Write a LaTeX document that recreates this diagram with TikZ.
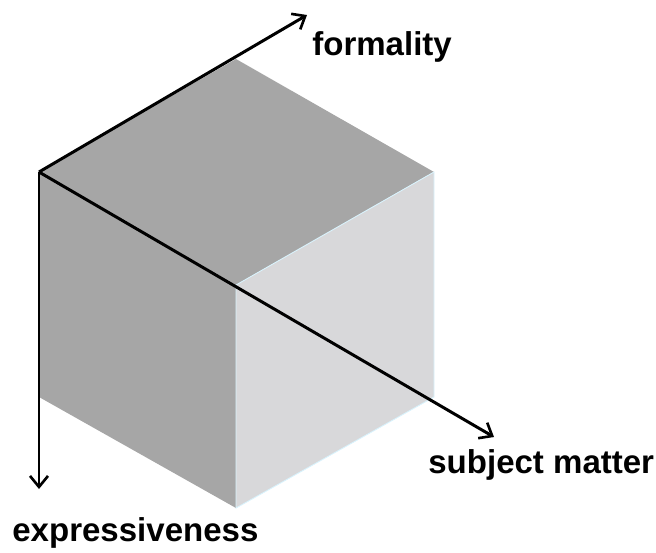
\documentclass[tikz,border=0pt]{standalone}
\usepackage{fontspec}
\setmainfont{Liberation Sans}
\usetikzlibrary{arrows.meta}
\definecolor{darkface}{RGB}{166,166,166}
\definecolor{lightface}{RGB}{216,216,218}

\begin{document}
\begin{tikzpicture}[x=0.02cm, y=-0.02cm]
        \tikzset{axis/.style = {line width=1.7pt, -{Straight Barb[length=0.22cm, width=0.36cm, line width=1.5pt]}},
        label/.style = {anchor=base west, inner sep=0pt, font=\fontsize{18.8}{22}\selectfont\bfseries}}
        \useasboundingbox (0,0) rectangle (656,552);
        % cube corners
        \coordinate (O) at (39,172);
        \coordinate (T) at (236,59);
        \coordinate (R) at (434,172);
        \coordinate (F) at (236,285);
        \coordinate (OB) at (39,397);
        \coordinate (FB) at (236,508);
        \coordinate (RB) at (434,397);
        \fill[darkface] (O) -- (T) -- (R) -- (F) -- cycle;
        \fill[darkface] (O) -- (F) -- (FB) -- (OB) -- cycle;
        \fill[lightface, draw=white!85!cyan, line width=0.5pt] (F) -- (R) -- (RB) -- (FB) -- cycle;
        % axis ends
        \coordinate (fo) at (307,15);
        \coordinate (ex) at (39,489);
        \coordinate (su) at (494,437);
        \draw[axis] (O) -- (fo);
        \draw[axis] (O) -- (ex);
        \draw[axis] (O) -- (su);
        \node[label] (formality) at (312,55) {formality};
        \node[label] (subject) at (428,473) {subject matter};
        \node[label] (expressiveness) at (12,541) {expressiveness};
\end{tikzpicture}
\end{document}
